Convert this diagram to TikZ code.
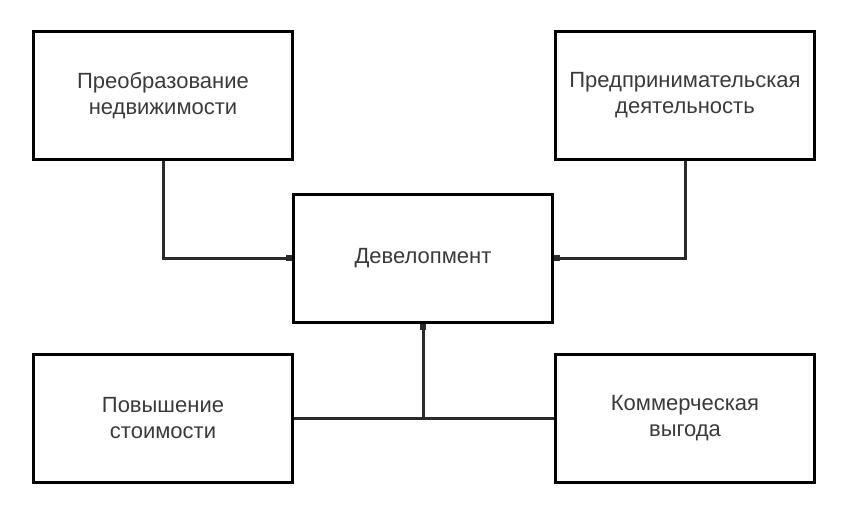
\documentclass[tikz,border=0pt]{standalone}
\usepackage{fontspec}
\setmainfont{Liberation Sans}
\usetikzlibrary{arrows.meta}
\definecolor{txt}{HTML}{3A3A3A}
\definecolor{ln}{HTML}{2A2A2A}
\begin{document}
\begin{tikzpicture}[x=1pt,y=-1pt,
  box/.style={draw=black,line width=3pt,minimum width=259pt,minimum height=128pt,
    inner sep=0pt,align=center,text=txt,font=\fontsize{22}{26}\selectfont},
  conn/.style={draw=ln,line width=3pt},
  tip/.style={-{Square[length=6pt,width=6pt]}}]
\useasboundingbox (0,0) rectangle (849,516);
\node[box] (tl) at (163,95.5) {Преобразование\\недвижимости};
\node[box] (tr) at (685,95.5) {Предпринимательская\\деятельность};
\node[box] (c) at (423,258) {Девелопмент};
\node[box] (bl) at (163,418.5) {Повышение\\стоимости};
\node[box] (br) at (685,418.5) {Коммерческая\\выгода};
\draw[conn,tip] (tl.south) |- (c.west);
\draw[conn,tip] (tr.south) |- (c.east);
\draw[conn] (bl.east) -- (br.west);
\coordinate (j) at (c.south |- bl.east);
\draw[conn,tip] (j) -- (c.south);
\end{tikzpicture}
\end{document}
